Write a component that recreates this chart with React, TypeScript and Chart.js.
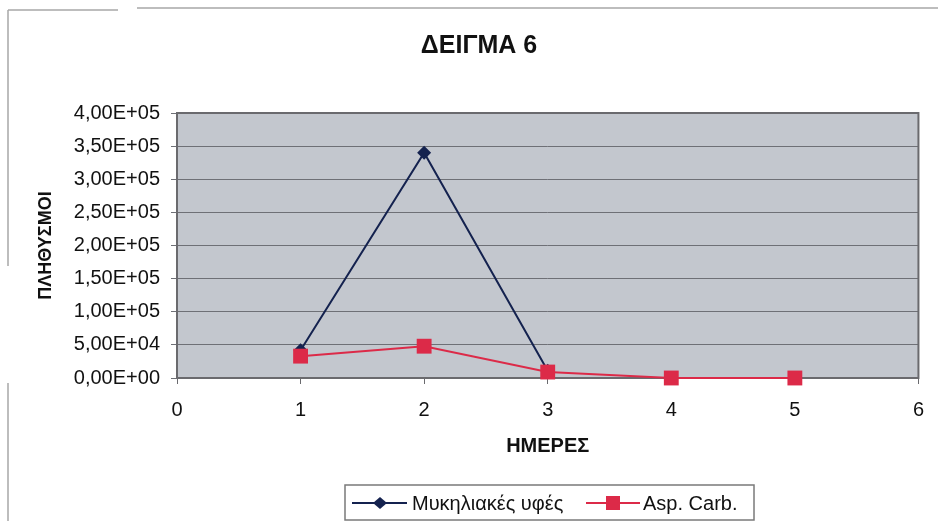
import React, { useEffect, useRef } from "react";
import { Chart, registerables } from "chart.js";

Chart.register(...registerables);

// Days on the x axis, populations on the y axis
const days = [1, 2, 3, 4, 5];
const hyphaeDays = [1, 2, 3];
const hyphaeValues = [42000, 340000, 11000]; // Μυκηλιακές υφές
const aspCarbValues = [33000, 48000, 9000, 0, 0]; // Asp. Carb.

const xTicks = [0, 1, 2, 3, 4, 5, 6];
const yMax = 400000;
const yStep = 50000;

const TITLE = "ΔΕΙΓΜΑ 6";
const X_TITLE = "ΗΜΕΡΕΣ";
const Y_TITLE = "ΠΛΗΘΥΣΜΟΙ";
const SERIES_NAMES = ["Μυκηλιακές υφές", "Asp. Carb."];

const FONT = "'Liberation Sans', Arial, sans-serif";
const NAVY = "#14224f";
const RED = "#dc2a48";

// Excel-style scientific notation with a decimal comma: 4,00E+05
function sci(v: number): string {
  if (v === 0) return "0,00E+00";
  const [m, e] = v.toExponential(2).split("e");
  const exp = parseInt(e, 10);
  const sign = exp < 0 ? "-" : "+";
  return m.replace(".", ",") + "E" + sign + String(Math.abs(exp)).padStart(2, "0");
}

const plotDecor = {
  id: "plotDecor",
  beforeDraw(chart: any) {
    const { ctx, chartArea: a } = chart;
    ctx.save();
    ctx.fillStyle = "#c3c7ce";
    ctx.fillRect(a.left, a.top, a.right - a.left, a.bottom - a.top);
    // sheet frame
    ctx.strokeStyle = "#a8a8a8";
    ctx.lineWidth = 1.5;
    ctx.beginPath();
    ctx.moveTo(8, 10);
    ctx.lineTo(118, 10);
    ctx.moveTo(137, 8);
    ctx.lineTo(938, 8);
    ctx.moveTo(8, 10);
    ctx.lineTo(8, 266);
    ctx.moveTo(8, 383);
    ctx.lineTo(8, 521);
    ctx.stroke();
    ctx.restore();
  },
  beforeDatasetsDraw(chart: any) {
    const { ctx, chartArea: a } = chart;
    ctx.save();
    ctx.strokeStyle = "#6a6a6e";
    ctx.lineWidth = 2;
    ctx.strokeRect(a.left, a.top, a.right - a.left, a.bottom - a.top);
    ctx.restore();
  },
  afterDraw(chart: any) {
    const { ctx } = chart;
    const cy = 503;
    ctx.save();
    // legend box
    ctx.fillStyle = "#ffffff";
    ctx.fillRect(345, 485, 409, 35);
    ctx.strokeStyle = "#7a7a7a";
    ctx.lineWidth = 1.5;
    ctx.strokeRect(345, 485, 409, 35);

    ctx.font = "20px " + FONT;
    ctx.textBaseline = "middle";
    ctx.textAlign = "left";

    // first entry: navy line with diamond
    ctx.strokeStyle = NAVY;
    ctx.lineWidth = 2;
    ctx.beginPath();
    ctx.moveTo(352, cy);
    ctx.lineTo(407, cy);
    ctx.stroke();
    ctx.fillStyle = NAVY;
    ctx.beginPath();
    ctx.moveTo(380, cy - 6);
    ctx.lineTo(387, cy);
    ctx.lineTo(380, cy + 6);
    ctx.lineTo(373, cy);
    ctx.closePath();
    ctx.fill();
    ctx.fillStyle = "#111111";
    ctx.fillText(SERIES_NAMES[0], 412, cy + 1);

    // second entry: red line with square
    ctx.strokeStyle = RED;
    ctx.beginPath();
    ctx.moveTo(586, cy);
    ctx.lineTo(640, cy);
    ctx.stroke();
    ctx.fillStyle = RED;
    ctx.fillRect(606, cy - 7, 14, 14);
    ctx.fillStyle = "#111111";
    ctx.fillText(SERIES_NAMES[1], 643, cy + 1);
    ctx.restore();
  },
};

export default function App() {
  const canvasRef = useRef<HTMLCanvasElement | null>(null);

  useEffect(() => {
    if (!canvasRef.current) return;
    const chart = new Chart(canvasRef.current, {
      type: "line",
      data: {
        datasets: [
          {
            label: SERIES_NAMES[0],
            data: hyphaeDays.map((d, i) => ({ x: d, y: hyphaeValues[i] })),
            borderColor: NAVY,
            backgroundColor: NAVY,
            borderWidth: 2,
            pointStyle: "rectRot",
            pointRadius: 7,
            pointBorderWidth: 0,
            clip: false,
            order: 2,
          },
          {
            label: SERIES_NAMES[1],
            data: days.map((d, i) => ({ x: d, y: aspCarbValues[i] })),
            borderColor: RED,
            backgroundColor: RED,
            borderWidth: 2,
            pointStyle: "rect",
            pointRadius: 10.5,
            pointBorderWidth: 0,
            clip: false,
            order: 1,
          },
        ],
      },
      options: {
        animation: false,
        responsive: true,
        maintainAspectRatio: false,
        layout: { padding: { left: 39, right: 19, top: 0, bottom: 40 } },
        plugins: {
          legend: { display: false },
          tooltip: { enabled: false },
          title: {
            display: true,
            text: TITLE,
            color: "#111111",
            font: { family: FONT, size: 25, weight: "bold" },
            padding: { top: 31, bottom: 52 },
          },
        },
        scales: {
          x: {
            type: "linear",
            min: 0,
            max: 6,
            afterBuildTicks: (scale: any) => {
              scale.ticks = xTicks.map((v) => ({ value: v }));
            },
            afterFit: (scale: any) => {
              scale.height = 103;
            },
            grid: {
              drawOnChartArea: false,
              drawTicks: true,
              tickLength: 6,
              color: "#6a6a6e",
            },
            border: { display: false },
            ticks: {
              padding: 14,
              color: "#111111",
              font: { family: FONT, size: 20 },
              maxRotation: 0,
            },
            title: {
              display: true,
              text: X_TITLE,
              color: "#111111",
              font: { family: FONT, size: 20, weight: "bold" },
              padding: { top: 0, bottom: 23 },
            },
          },
          y: {
            type: "linear",
            min: 0,
            max: yMax,
            afterFit: (scale: any) => {
              scale.width = 138;
            },
            grid: {
              color: "#6e7076",
              lineWidth: 1,
              tickLength: 6,
            },
            border: { display: false },
            ticks: {
              stepSize: yStep,
              padding: 11,
              color: "#111111",
              font: { family: FONT, size: 20 },
              callback: (v: any) => sci(Number(v)),
            },
            title: {
              display: true,
              text: Y_TITLE,
              color: "#111111",
              font: { family: FONT, size: 18, weight: "bold" },
              padding: { top: -4, bottom: 0 },
            },
          },
        },
      },
      plugins: [plotDecor],
    });
    return () => chart.destroy();
  }, []);

  return (
    <div
      style={{
        position: "absolute",
        left: 0,
        top: 0,
        width: 938,
        height: 521,
        background: "#ffffff",
      }}
    >
      <canvas ref={canvasRef} />
    </div>
  );
}
